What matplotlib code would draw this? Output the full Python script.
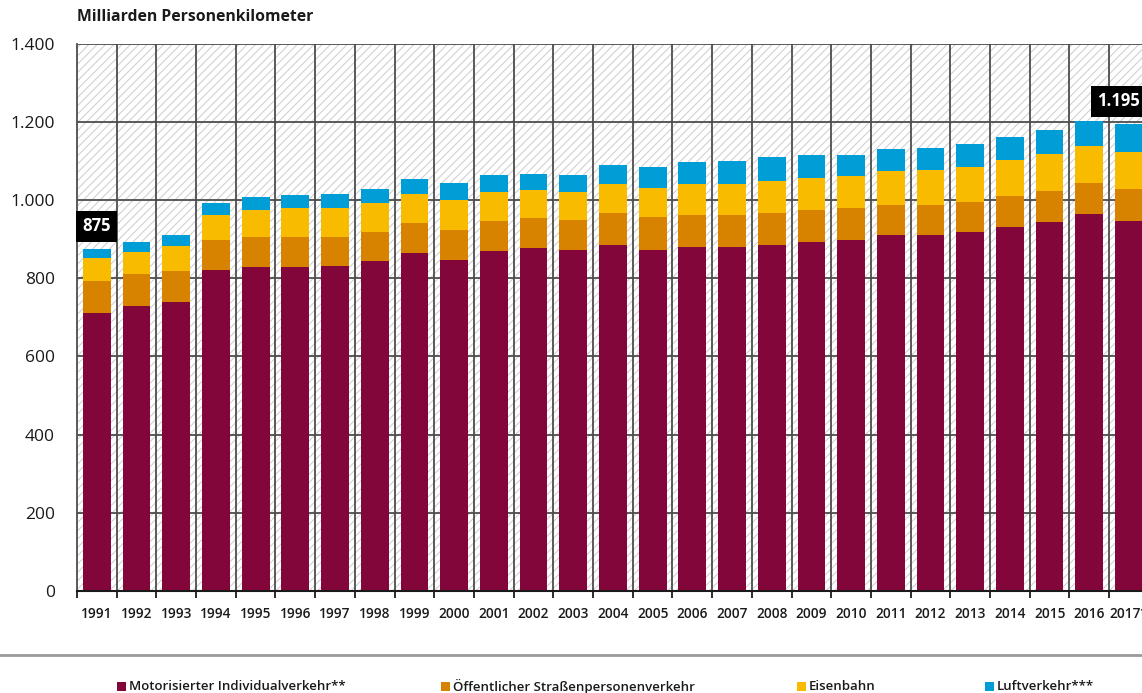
import matplotlib
matplotlib.use("Agg")
import matplotlib.pyplot as plt
from matplotlib.patches import Rectangle
from matplotlib.lines import Line2D
import numpy as np

plt.rcParams['font.family'] = ['Open Sans', 'DejaVu Sans']
plt.rcParams['hatch.linewidth'] = 0.7

years = ['1991', '1992', '1993', '1994', '1995', '1996', '1997', '1998', '1999',
         '2000', '2001', '2002', '2003', '2004', '2005', '2006', '2007', '2008',
         '2009', '2010', '2011', '2012', '2013', '2014', '2015', '2016', '2017*']

# Milliarden Personenkilometer
miv = [712, 730, 740, 821, 830, 830, 832, 844, 865, 848, 870, 878, 873, 885,
       873, 881, 881, 886, 894, 899, 910, 912, 919, 932, 943, 964, 948]
oespv = [81, 80, 78, 77, 76, 77, 75, 74, 76, 76, 76, 76, 77, 83,
         83, 80, 82, 81, 81, 80, 77, 77, 77, 78, 81, 80, 81]
bahn = [58, 58, 65, 65, 70, 72, 73, 74, 74, 76, 76, 71, 70, 74,
        76, 81, 79, 81, 82, 83, 87, 88, 90, 93, 94, 94, 95]
luft = [24, 26, 27, 29, 33, 34, 36, 37, 39, 43, 43, 41, 45, 48,
        54, 55, 58, 62, 59, 53, 56, 57, 57, 59, 61, 65, 71]

labels = ['Motorisierter Individualverkehr**', 'Öffentlicher Straßenpersonenverkehr',
          'Eisenbahn', 'Luftverkehr***']
colors = ['#83063b', '#d88300', '#f9bb00', '#009dd6']
# bar index -> label text; the last box is nudged left in the original
callouts = {0: '875', 26: '1.195'}
callout_shift = {0: 0.0, 26: -0.27}

fig = plt.figure(figsize=(11.42, 6.93), dpi=100)
ax = fig.add_axes([0.0674, 0.1475, 0.9386, 0.7890])

x = np.arange(len(years))
series = [miv, oespv, bahn, luft]
bottom = np.zeros(len(years))
for vals, col in zip(series, colors):
    ax.bar(x, vals, width=0.7, bottom=bottom, color=col, zorder=3, linewidth=0)
    bottom += np.array(vals)

# hatched background
ax.add_patch(Rectangle((0, 0), 1, 1, transform=ax.transAxes, facecolor='white',
                       edgecolor='#cccccc', hatch='////', linewidth=0, zorder=0))

ax.set_xlim(-0.5, len(years) - 0.5)
ax.set_ylim(0, 1400)

# grid
for yv in range(200, 1401, 200):
    ax.axhline(yv, color='#4d4d4d', lw=1.3, zorder=1)
for b in np.arange(0.5, len(years) - 0.5, 1):
    ax.axvline(b, color='#4d4d4d', lw=1.3, zorder=1)

ax.set_yticks(range(0, 1401, 200))
ax.set_yticklabels([f'{v:,}'.replace(',', '.') for v in range(0, 1401, 200)], fontsize=12.5)
ax.tick_params(axis='y', length=0, pad=16, colors='#1a1a1a')

ax.set_xticks(x)
ax.set_xticklabels(years, fontsize=9.8, fontweight='semibold')
ax.set_xticks(np.arange(-0.5, len(years), 1), minor=True)
ax.tick_params(axis='x', which='major', length=0, pad=12, colors='#1a1a1a')
ax.tick_params(axis='x', which='minor', length=5, width=1.3, direction='out', color='#1a1a1a')

for s in ['top', 'right']:
    ax.spines[s].set_visible(False)
ax.spines['left'].set_color('#4d4d4d')
ax.spines['left'].set_linewidth(1.3)
ax.spines['bottom'].set_color('#1a1a1a')
ax.spines['bottom'].set_linewidth(1.5)
ax.spines['bottom'].set_zorder(4)

for i, txt in callouts.items():
    ax.text(i + callout_shift[i], bottom[i] + 58, txt, ha='center', va='center',
            color='white', fontsize=12, fontweight='bold', zorder=6,
            bbox=dict(boxstyle='square,pad=0.38', facecolor='black', edgecolor='none'))

fig.text(0.0674, 0.975, 'Milliarden Personenkilometer', fontsize=11.3,
         fontweight='bold', ha='left', va='center', color='#1a1a1a')

# separator line above legend
fig.add_artist(Line2D([0, 1], [1 - 655 / 693] * 2, transform=fig.transFigure,
                      color='#9a9a9a', lw=2))

# legend entries
leg_x = [117, 441, 797, 985]
ly = 1 - 686 / 693
for px, lab, col in zip(leg_x, labels, colors):
    fig.add_artist(Rectangle((px / 1142, ly - 4.5 / 693), 9 / 1142, 9 / 693,
                             transform=fig.transFigure, facecolor=col, edgecolor='none'))
    fig.text((px + 12) / 1142, ly, lab, fontsize=9.5, fontweight='semibold',
             ha='left', va='center', color='#1a1a1a')

fig.savefig('out.png', dpi=100)
